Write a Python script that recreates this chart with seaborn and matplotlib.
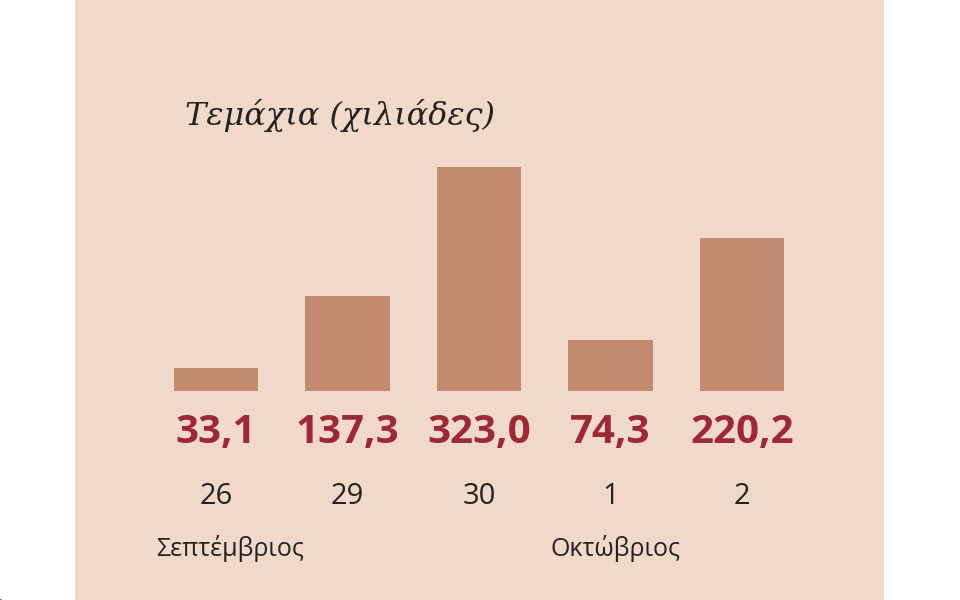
import matplotlib
matplotlib.use("Agg")
import matplotlib.pyplot as plt
import seaborn as sns
import pandas as pd
from matplotlib.patches import Rectangle
from matplotlib.lines import Line2D

days = ["26", "29", "30", "1", "2"]
values = [33.1, 137.3, 323.0, 74.3, 220.2]
value_labels = ["33,1", "137,3", "323,0", "74,3", "220,2"]
months = [("Σεπτέμβριος", 0), ("Οκτώβριος", 3)]

df = pd.DataFrame({"day": days, "value": values})

W, H = 960, 600
fig = plt.figure(figsize=(9.6, 6), dpi=100)
fig.patch.set_facecolor("white")
fig.patches.append(Rectangle((75 / W, 0), (884 - 75) / W, 1, transform=fig.transFigure,
                             facecolor="#f1d9c9", edgecolor="none", zorder=-10))

x0, x1 = 150, 808
cell = (x1 - x0) / 5
base = 391
ax = fig.add_axes([x0 / W, 1 - base / H, (x1 - x0) / W, (base - 100) / H])
ax.patch.set_alpha(0)
sns.barplot(data=df, x="day", y="value", color="#c48a6f", width=0.64, saturation=1, ax=ax)
ax.set_xlim(-0.5, 4.5)
ax.set_ylim(0, (base - 100) / 0.693)
ax.axis("off")

def fx(px):
    return px / W

def fy(py):
    return 1 - py / H

def hline(y, xa, xb):
    fig.lines.append(Line2D([fx(xa), fx(xb)], [fy(y), fy(y)], color="#777777", lw=1.2, zorder=5))

def vline(x, ya, yb):
    fig.lines.append(Line2D([fx(x), fx(x)], [fy(ya), fy(yb)], color="#777777", lw=1.2, zorder=5))

hline(393, x0 - 2, x1)
hline(464, x0, x1)
for i in range(6):
    vline(x0 + i * cell, 393, 514)
for _, i in months:
    vline(x0 + i * cell, 514, 567)

for i, (d, v) in enumerate(zip(days, value_labels)):
    cx = x0 + (i + 0.5) * cell
    fig.text(fx(cx), fy(432), v, ha="center", va="center", fontsize=29,
             fontweight="bold", color="#9b2a33", family="Open Sans")
    fig.text(fx(cx), fy(497), d, ha="center", va="center", fontsize=21,
             color="#222222", family="Open Sans")
for name, i in months:
    fig.text(fx(x0 + i * cell + 6), fy(548), name, ha="left", va="center",
             fontsize=18, color="#222222", family="Open Sans")

fig.text(fx(185), fy(115), "Τεμάχια (χιλιάδες)", ha="left", va="center", fontsize=23,
         style="italic", family="DejaVu Serif", color="#222222")

fig.savefig("out.png", dpi=100)
